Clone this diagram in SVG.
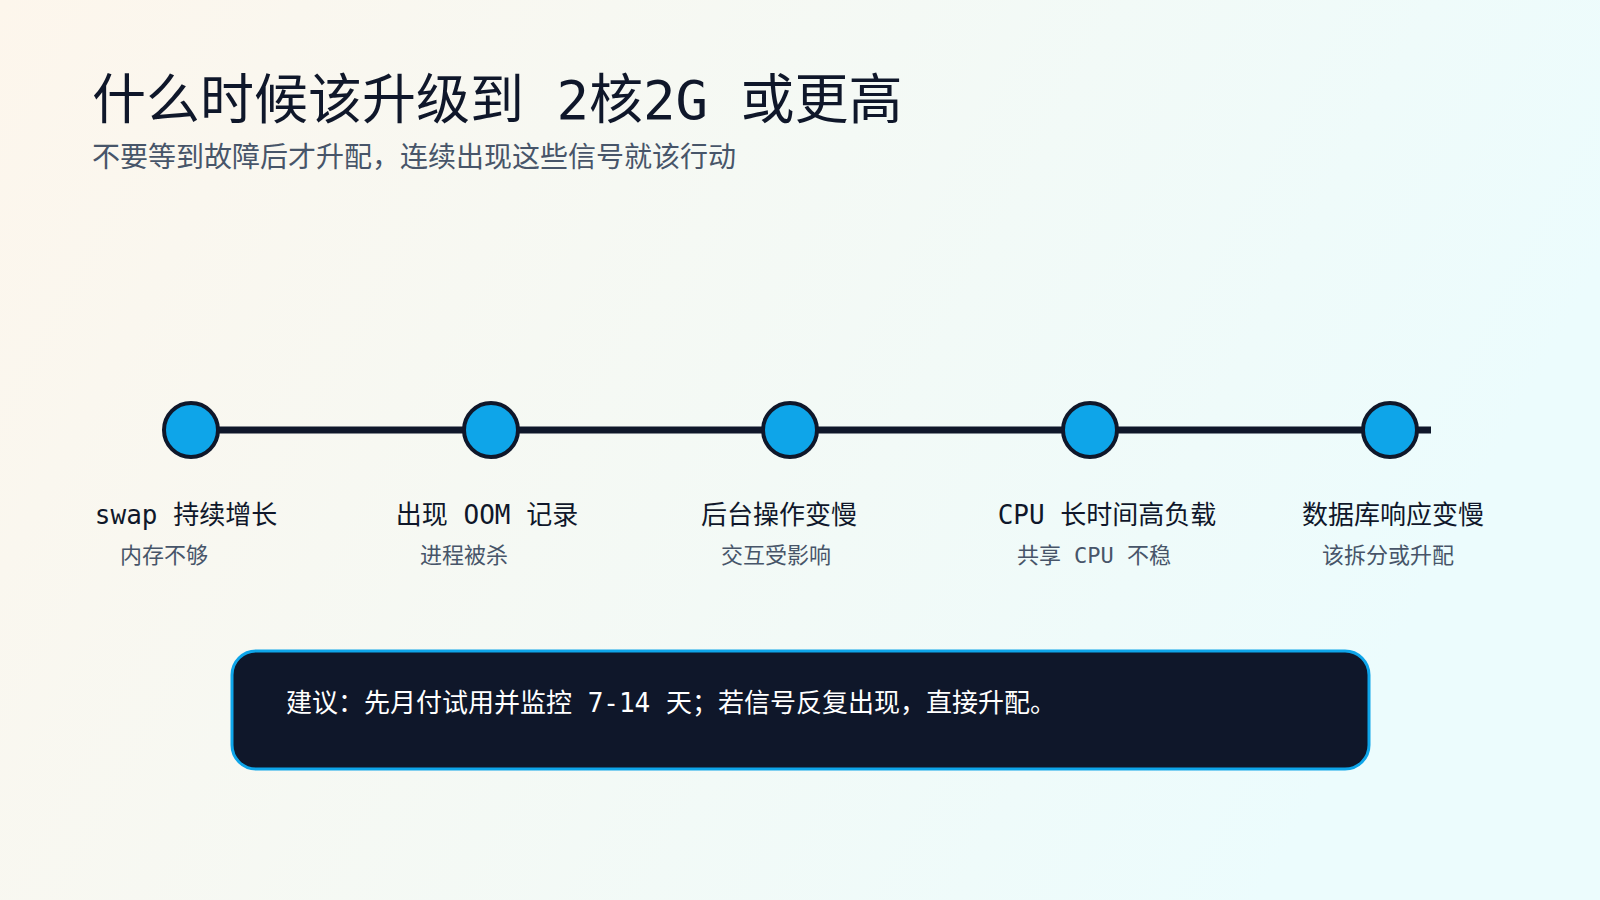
<svg xmlns="http://www.w3.org/2000/svg" width="1600" height="900" viewBox="0 0 1600 900">
<defs>
<linearGradient id="bg" x1="0" y1="0" x2="1" y2="0.3">
<stop offset="0" stop-color="#fdf6ec"/>
<stop offset="1" stop-color="#ecfcfd"/>
</linearGradient>
<style>
text{font-family:"DejaVu Sans Mono","Noto Sans CJK SC",monospace}
.t{font-size:54px;fill:#0f172a}
.s{font-size:28px;fill:#475569}
.m{font-size:26px;fill:#0f172a;text-anchor:middle}
.n{font-size:22px;fill:#475569;text-anchor:middle}
.dot{fill:#0ea5e9;stroke:#0f172a;stroke-width:4}
</style>
</defs>
<rect width="1600" height="900" fill="url(#bg)"/>
<text class="t" x="92" y="119">什么时候该升级到 2核2G 或更高</text>
<text class="s" x="92" y="167">不要等到故障后才升配，连续出现这些信号就该行动</text>
<g id="connectors"><line x1="191" y1="430" x2="1431" y2="430" stroke="#0f172a" stroke-width="7"/></g>
<g id="n1"><circle class="dot" cx="191" cy="430" r="27"/><text class="m" x="186" y="524">swap 持续增长</text><text class="n" x="164" y="563">内存不够</text></g>
<g id="n2"><circle class="dot" cx="491" cy="430" r="27"/><text class="m" x="487" y="524">出现 OOM 记录</text><text class="n" x="464" y="563">进程被杀</text></g>
<g id="n3"><circle class="dot" cx="790" cy="430" r="27"/><text class="m" x="779" y="524">后台操作变慢</text><text class="n" x="776" y="563">交互受影响</text></g>
<g id="n4"><circle class="dot" cx="1090" cy="430" r="27"/><text class="m" x="1107" y="524">CPU 长时间高负载</text><text class="n" x="1094" y="563">共享 CPU 不稳</text></g>
<g id="n5"><circle class="dot" cx="1390" cy="430" r="27"/><text class="m" x="1393" y="524">数据库响应变慢</text><text class="n" x="1388" y="563">该拆分或升配</text></g>
<g id="note"><rect x="232" y="651" width="1137" height="118" rx="24" fill="#0f172a" stroke="#0ea5e9" stroke-width="3"/>
<text x="286" y="712" style="font-size:26px;fill:#ffffff">建议：先月付试用并监控 7-14 天；若信号反复出现，直接升配。</text></g>
</svg>
